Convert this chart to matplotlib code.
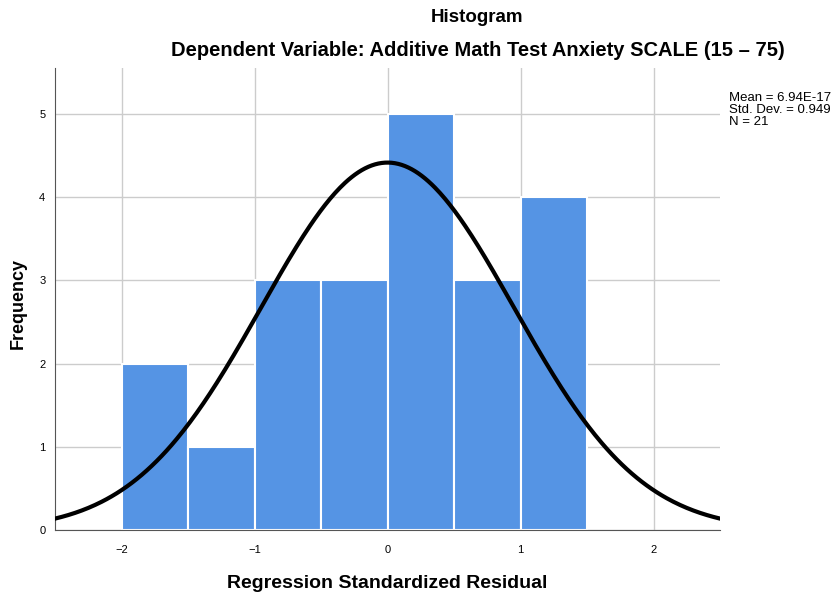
import numpy as np
import matplotlib
matplotlib.use("Agg")
import matplotlib.pyplot as plt

# Histogram data
bin_edges = [-2.0, -1.5, -1.0, -0.5, 0.0, 0.5, 1.0, 1.5]
counts = [2, 1, 3, 3, 5, 3, 4]

# Summary statistics shown in the chart
mean_val = 6.94e-17
std_val = 0.949
n_val = 21
bin_width = 0.5

plt.rcParams['font.family'] = ['Liberation Sans', 'DejaVu Sans']

fig = plt.figure(figsize=(8.39, 5.95), dpi=100)
ax = fig.add_axes([0.0656, 0.1092, 0.7926, 0.7765])

lefts = bin_edges[:-1]
widths = np.diff(bin_edges)
ax.bar(lefts, counts, width=widths, align='edge', color='#5594E4',
       edgecolor='white', linewidth=1.5, zorder=2)

# normal curve from mean / std dev / N
xs = np.linspace(-2.5, 2.5, 400)
ys = n_val * bin_width / (std_val * np.sqrt(2 * np.pi)) * np.exp(-0.5 * ((xs - mean_val) / std_val) ** 2)
ax.plot(xs, ys, color='black', linewidth=3, zorder=3)

ax.set_xlim(-2.5, 2.5)
ax.set_ylim(0, 5.55)
ax.set_xticks([-2, -1, 0, 1, 2])
ax.set_xticklabels(['\u22122', '\u22121', '0', '1', '2'])
ax.set_yticks([0, 1, 2, 3, 4, 5])
ax.grid(True, color='#cccccc', linewidth=1, zorder=0)
ax.set_axisbelow(True)
for s in ['top', 'right']:
    ax.spines[s].set_visible(False)
ax.spines['left'].set_color('#555555')
ax.spines['bottom'].set_color('#555555')
ax.tick_params(length=0, labelsize=8)
ax.tick_params(axis='x', pad=11)
ax.tick_params(axis='y', pad=7)

ax.set_xlabel('Regression Standardized Residual', fontsize=14, fontweight='bold', labelpad=14)
ax.set_ylabel('Frequency', fontsize=13, fontweight='bold', va='center')
ax.yaxis.set_label_coords(-0.056, 0.49)

fig.text(0.569, 0.97, 'Histogram', ha='center', va='center', fontsize=13.5, fontweight='bold')
fig.text(0.569, 0.915, 'Dependent Variable: Additive Math Test Anxiety SCALE (15 \u2013 75)',
         ha='center', va='center', fontsize=14.5, fontweight='bold')

fig.text(0.869, 0.815, 'Mean = 6.94E-17\nStd. Dev. = 0.949\nN = 21',
         ha='left', va='center', fontsize=9.5, linespacing=1.0)

fig.savefig('out.png', dpi=100)
